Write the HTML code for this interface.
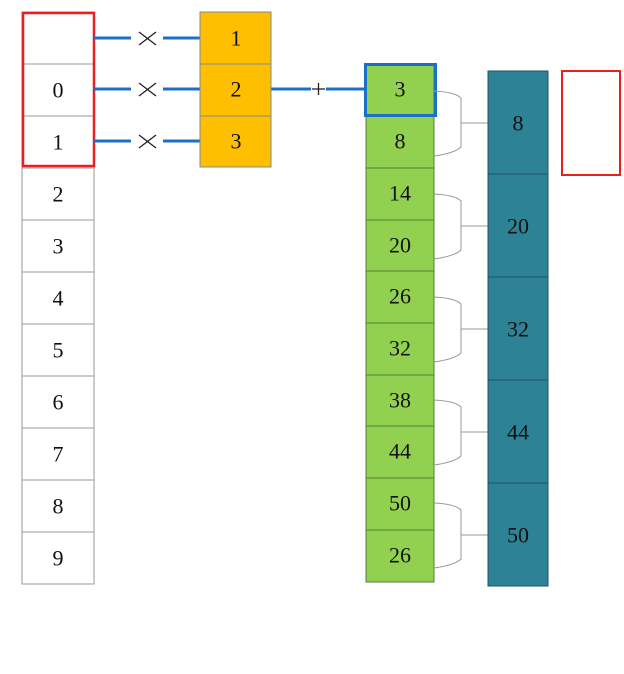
<!DOCTYPE html>
<html><head><meta charset="utf-8"><style>
html,body{margin:0;padding:0;background:#fff;}
svg text{font-family:"Liberation Serif",serif;font-size:22px;text-anchor:middle;dominant-baseline:central;fill:#111;}
</style></head><body>
<svg width="624" height="669" viewBox="0 0 624 669" xmlns="http://www.w3.org/2000/svg">
<g stroke="#999" stroke-width="1" fill="#fff">
<rect x="22" y="12" width="72" height="572"/>
<line x1="22" y1="64" x2="94" y2="64"/><line x1="22" y1="116" x2="94" y2="116"/>
<line x1="22" y1="168" x2="94" y2="168"/><line x1="22" y1="220" x2="94" y2="220"/>
<line x1="22" y1="272" x2="94" y2="272"/><line x1="22" y1="324" x2="94" y2="324"/>
<line x1="22" y1="376" x2="94" y2="376"/><line x1="22" y1="428" x2="94" y2="428"/>
<line x1="22" y1="480" x2="94" y2="480"/><line x1="22" y1="532" x2="94" y2="532"/>
</g>
<rect x="23" y="13" width="71" height="153" fill="none" stroke="#e82020" stroke-width="2.5"/>
<g>
<text x="58" y="90">0</text><text x="58" y="142">1</text><text x="58" y="194">2</text>
<text x="58" y="246">3</text><text x="58" y="298">4</text><text x="58" y="350">5</text>
<text x="58" y="402">6</text><text x="58" y="454">7</text><text x="58" y="506">8</text>
<text x="58" y="558">9</text>
</g>
<g stroke="#1a70c8" stroke-width="3">
<line x1="94" y1="38" x2="131" y2="38"/><line x1="163" y1="38" x2="200" y2="38"/>
<line x1="94" y1="89" x2="131" y2="89"/><line x1="163" y1="89" x2="200" y2="89"/>
<line x1="94" y1="141" x2="131" y2="141"/><line x1="163" y1="141" x2="200" y2="141"/>
<line x1="271" y1="89" x2="311" y2="89"/><line x1="326" y1="89" x2="366" y2="89"/>
</g>
<g stroke="#222" stroke-width="1.3">
<line x1="139" y1="32" x2="156" y2="45"/><line x1="139" y1="45" x2="156" y2="32"/>
<line x1="139" y1="83" x2="156" y2="96"/><line x1="139" y1="96" x2="156" y2="83"/>
<line x1="139" y1="135" x2="156" y2="148"/><line x1="139" y1="148" x2="156" y2="135"/>
<line x1="312" y1="89" x2="325" y2="89"/><line x1="318.5" y1="83" x2="318.5" y2="95"/>
</g>
<g stroke="#888" stroke-width="1" fill="#fdbf00">
<rect x="200" y="12" width="71" height="155"/>
<line x1="200" y1="64" x2="271" y2="64"/><line x1="200" y1="116" x2="271" y2="116"/>
</g>
<text x="236" y="38">1</text><text x="236" y="89">2</text><text x="236" y="141">3</text>
<g stroke="#5a7a3a" stroke-width="1" fill="#92d050">
<rect x="366" y="64" width="68" height="518"/>
<line x1="366" y1="116" x2="434" y2="116"/><line x1="366" y1="168" x2="434" y2="168"/>
<line x1="366" y1="220" x2="434" y2="220"/><line x1="366" y1="271" x2="434" y2="271"/>
<line x1="366" y1="323" x2="434" y2="323"/><line x1="366" y1="375" x2="434" y2="375"/>
<line x1="366" y1="426" x2="434" y2="426"/><line x1="366" y1="478" x2="434" y2="478"/>
<line x1="366" y1="530" x2="434" y2="530"/>
</g>
<rect x="365.5" y="64.5" width="70" height="51" fill="none" stroke="#1a70c8" stroke-width="3"/>
<g>
<text x="400" y="89">3</text><text x="400" y="141">8</text><text x="400" y="193">14</text>
<text x="400" y="245">20</text><text x="400" y="296">26</text><text x="400" y="348">32</text>
<text x="400" y="400">38</text><text x="400" y="451">44</text><text x="400" y="503">50</text>
<text x="400" y="555">26</text>
</g>
<g stroke="#999" stroke-width="1" fill="none">
<path d="M434,91 Q455,92 461,98 L461,147 Q455,153 434,156 M461,123 L488,123"/>
<path d="M434,194 Q455,195 461,201 L461,250 Q455,256 434,259 M461,226 L488,226"/>
<path d="M434,297 Q455,298 461,304 L461,353 Q455,359 434,362 M461,329 L488,329"/>
<path d="M434,400 Q455,401 461,407 L461,456 Q455,462 434,465 M461,432 L488,432"/>
<path d="M434,503 Q455,504 461,510 L461,559 Q455,565 434,568 M461,535 L488,535"/>
</g>
<g stroke="#1d5366" stroke-width="1" fill="#2e8296">
<rect x="488" y="71" width="60" height="515"/>
<line x1="488" y1="174" x2="548" y2="174"/><line x1="488" y1="277" x2="548" y2="277"/>
<line x1="488" y1="380" x2="548" y2="380"/><line x1="488" y1="483" x2="548" y2="483"/>
</g>
<text x="518" y="123">8</text><text x="518" y="226">20</text><text x="518" y="329">32</text>
<text x="518" y="432">44</text><text x="518" y="535">50</text>
<rect x="562" y="71" width="58" height="104" fill="none" stroke="#e82020" stroke-width="2"/>
</svg>
</body></html>
